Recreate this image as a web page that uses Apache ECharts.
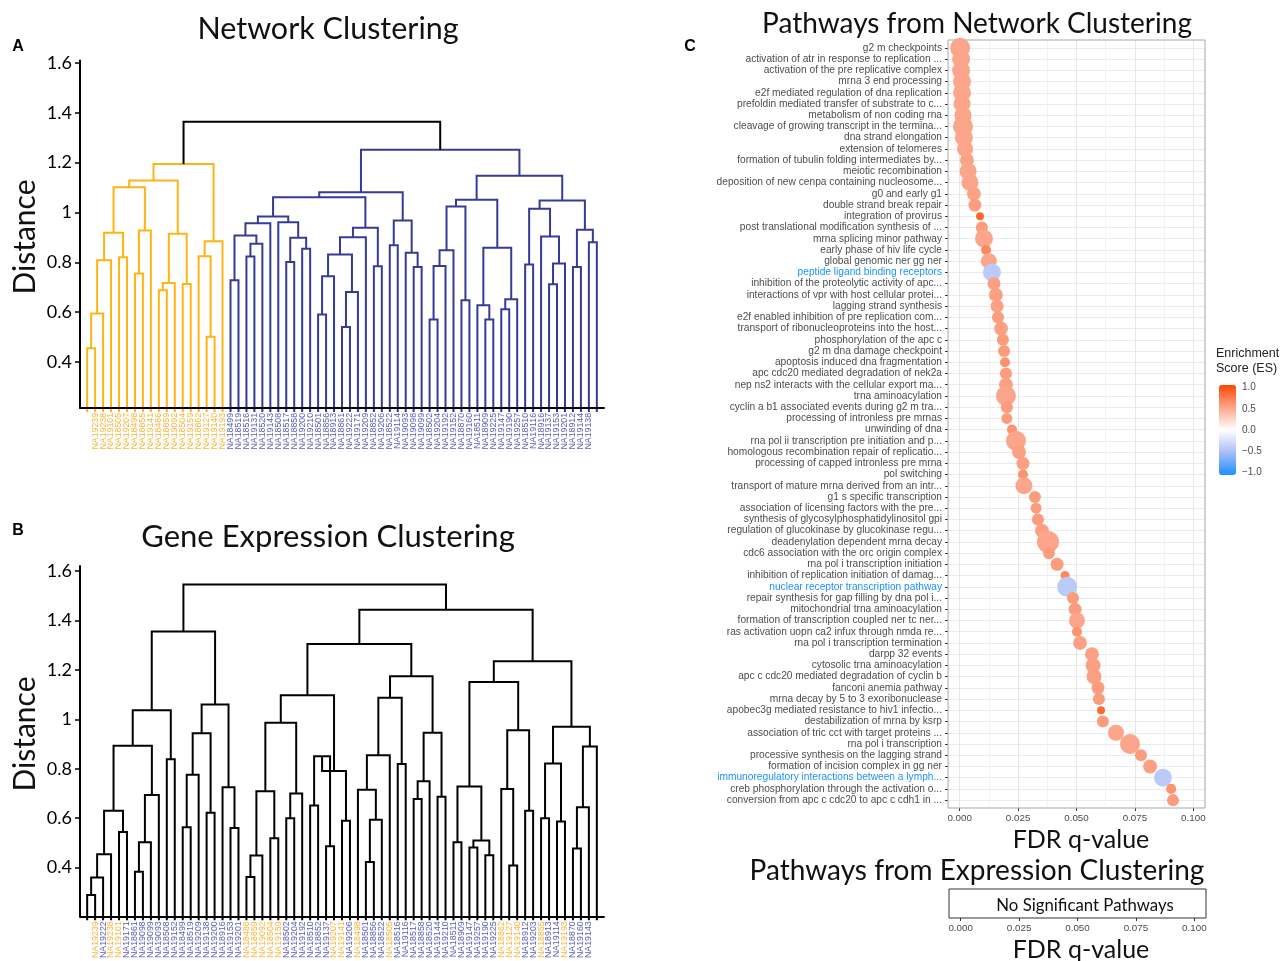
<!DOCTYPE html>
<html><head><meta charset="utf-8">
<script src="https://cdn.jsdelivr.net/npm/echarts@6/dist/echarts.min.js"></script>
<style>html,body{margin:0;padding:0;background:#fff}#c{width:1282px;height:961px}</style>
</head><body><div id="c"></div>
<script>
// ---------- Panel A : network clustering dendrogram ----------
const netLeaves = ['NA19130','NA19239','NA19238','NA19101','NA18505','NA19207','NA18498','NA18855','NA19141','NA18486','NA18859','NA19092','NA18504','NA19159','NA18862','NA19127','NA19140','NA19193',
  'NA18499','NA18519','NA18516','NA19131','NA18520','NA19143','NA18508','NA18517','NA18858','NA19200','NA19210','NA18501','NA18856','NA18913','NA18861','NA19222','NA19171','NA19209','NA18852','NA19206','NA18522','NA19114','NA19093','NA19098','NA19099','NA18502','NA19204','NA19192','NA19152','NA18870','NA19160','NA18511','NA18909','NA19225','NA19147','NA19190','NA19257','NA18510','NA19116','NA18916','NA19137','NA19153','NA19201','NA18912','NA19144','NA19138','NA19203'];
// merges: [childA, childB, height]; child < 65 is a leaf, otherwise merge (id-65)
const netMerges = [
 [0,1,0.455],[65,2,0.595],[66,3,0.808],[4,5,0.821],[67,68,0.919],[6,7,0.755],[70,8,0.928],[69,71,1.101],
 [9,10,0.688],[73,11,0.717],[12,13,0.713],[74,75,0.915],[72,76,1.128],[15,16,0.501],[14,78,0.825],[79,17,0.885],[77,80,1.195],
 [18,19,0.728],[20,21,0.824],[83,22,0.875],[82,84,0.908],[85,23,0.957],[25,26,0.801],[27,28,0.855],[87,88,0.899],[24,89,0.961],[86,90,0.984],
 [29,30,0.591],[92,31,0.744],[32,33,0.541],[94,34,0.681],[93,95,0.832],[96,35,0.901],[36,37,0.784],[97,98,0.939],[91,99,1.061],
 [38,39,0.869],[41,42,0.781],[40,102,0.839],[101,103,0.968],[100,104,1.081],
 [43,44,0.571],[106,45,0.785],[107,46,0.849],[47,48,0.648],[108,109,1.024],[50,51,0.571],[49,111,0.628],[52,53,0.612],[113,54,0.652],[112,114,0.859],[110,115,1.051],
 [55,56,0.791],[58,59,0.712],[118,60,0.795],[57,119,0.904],[117,120,1.015],[61,62,0.781],[63,64,0.881],[122,123,0.931],[121,124,1.048],[116,125,1.148],
 [105,126,1.252],[81,127,1.364]];

// ---------- Panel B : gene expression clustering dendrogram ----------
const exprLeaves = ['NA19130','NA19239','NA19222','NA19238','NA19101','NA19171','NA18861','NA19098','NA19099','NA19093','NA18508','NA19152','NA18499','NA18519','NA19209','NA19138','NA19200','NA18916','NA19153','NA19201',
  'NA18486','NA18859','NA19092','NA18504','NA19159','NA18502','NA19204','NA19192','NA18510','NA18852','NA19137','NA19207','NA19141','NA19206','NA18498','NA18501','NA18856','NA18522','NA18505','NA18516','NA19116','NA18517','NA18858','NA18520','NA19144','NA19210',
  'NA18511','NA18909','NA19147','NA19257','NA19190','NA19225','NA18862','NA19127','NA19140','NA18912','NA19203','NA18855','NA18913','NA19114','NA19193','NA18870','NA19160','NA19143','NA19131'];
const exprMerges = [
 [0,1,0.289],[65,2,0.360],[66,3,0.454],[4,5,0.544],[67,68,0.630],[6,7,0.383],[70,8,0.503],[71,9,0.694],[69,72,0.893],[10,11,0.839],[73,74,1.037],
 [12,13,0.563],[76,14,0.776],[15,16,0.622],[77,78,0.944],[18,19,0.560],[17,80,0.725],[79,81,1.060],[75,82,1.355],
 [20,21,0.362],[84,22,0.449],[23,24,0.519],[85,86,0.709],[25,26,0.600],[88,27,0.700],[87,89,0.986],[28,29,0.651],[30,31,0.487],[91,92,0.851],[32,33,0.590],[93,94,0.791],[90,95,1.097],
 [35,36,0.423],[97,37,0.594],[34,98,0.715],[99,38,0.855],[39,40,0.819],[100,101,1.087],[41,42,0.678],[103,43,0.749],[44,45,0.687],[104,105,0.946],[102,106,1.174],[96,107,1.305],
 [46,47,0.503],[48,49,0.481],[50,51,0.450],[110,111,0.510],[109,112,0.728],[53,54,0.409],[52,114,0.718],[55,56,0.630],[115,116,0.956],[113,117,1.151],
 [57,58,0.600],[59,60,0.587],[119,120,0.821],[61,62,0.477],[122,63,0.644],[123,64,0.890],[121,124,0.970],[118,125,1.235],[108,126,1.443],[83,127,1.546]];

const groupOneIds = ['NA19130','NA19239','NA19238','NA19101','NA18505','NA19207','NA18498','NA18855','NA19141','NA18486','NA18859','NA19092','NA18504','NA19159','NA18862','NA19127','NA19140','NA19193'];
const distanceTicks = [0.4,0.6,0.8,1,1.2,1.4,1.6];

// ---------- Panel C : pathways ----------
const pathways = ['g2 m checkpoints','activation of atr in response to replication ...','activation of the pre replicative complex','mrna 3 end processing','e2f mediated regulation of dna replication','prefoldin mediated transfer of substrate to c...','metabolism of non coding rna','cleavage of growing transcript in the termina...','dna strand elongation','extension of telomeres',
'formation of tubulin folding intermediates by...','meiotic recombination','deposition of new cenpa containing nucleosome...','g0 and early g1','double strand break repair','integration of provirus','post translational modification synthesis of ...','mrna splicing minor pathway','early phase of hiv life cycle','global genomic ner gg ner',
'peptide ligand binding receptors','inhibition of the proteolytic activity of apc...','interactions of vpr with host cellular protei...','lagging strand synthesis','e2f enabled inhibition of pre replication com...','transport of ribonucleoproteins into the host...','phosphorylation of the apc c','g2 m dna damage checkpoint','apoptosis induced dna fragmentation','apc cdc20 mediated degradation of nek2a',
'nep ns2 interacts with the cellular export ma...','trna aminoacylation','cyclin a b1 associated events during g2 m tra...','processing of intronless pre mrnas','unwinding of dna','rna pol ii transcription pre initiation and p...','homologous recombination repair of replicatio...','processing of capped intronless pre mrna','pol switching','transport of mature mrna derived from an intr...',
'g1 s specific transcription','association of licensing factors with the pre...','synthesis of glycosylphosphatidylinositol gpi','regulation of glucokinase by glucokinase regu...','deadenylation dependent mrna decay','cdc6 association with the orc origin complex','rna pol i transcription initiation','inhibition of replication initiation of damag...','nuclear receptor transcription pathway','repair synthesis for gap filling by dna pol i...',
'mitochondrial trna aminoacylation','formation of transcription coupled ner tc ner...','ras activation uopn ca2 infux through nmda re...','rna pol i transcription termination','darpp 32 events','cytosolic trna aminoacylation','apc c cdc20 mediated degradation of cyclin b','fanconi anemia pathway','mrna decay by 5 to 3 exoribonuclease','apobec3g mediated resistance to hiv1 infectio...',
'destabilization of mrna by ksrp','association of tric cct with target proteins ...','rna pol i transcription','processive synthesis on the lagging strand','formation of incision complex in gg ner','immunoregulatory interactions between a lymph...','creb phosphorylation through the activation o...','conversion from apc c cdc20 to apc c cdh1 in ...'];
const fdrQ = [0.0002,0.0006,0.0006,0.0010,0.0010,0.0010,0.0014,0.0014,0.0018,0.0023,
 0.0031,0.0036,0.0044,0.0061,0.0065,0.0087,0.0095,0.0104,0.0113,0.0125,
 0.0138,0.0147,0.0155,0.0160,0.0164,0.0177,0.0185,0.0190,0.0194,0.0198,
 0.0198,0.0198,0.0202,0.0202,0.0224,0.0241,0.0254,0.0271,0.0271,0.0275,
 0.0322,0.0327,0.0335,0.0352,0.0378,0.0382,0.0417,0.0451,0.0460,0.0485,
 0.0494,0.0502,0.0502,0.0515,0.0566,0.0571,0.0575,0.0592,0.0596,0.0605,
 0.0613,0.0669,0.0729,0.0776,0.0815,0.0870,0.0905,0.0913];
const enrichment = [0.5,0.5,0.5,0.5,0.5,0.5,0.5,0.5,0.5,0.5,
 0.52,0.5,0.5,0.52,0.54,0.82,0.55,0.5,0.65,0.5,
 -0.4,0.53,0.53,0.53,0.55,0.53,0.55,0.55,0.6,0.55,
 0.53,0.5,0.55,0.55,0.6,0.5,0.53,0.53,0.6,0.5,
 0.55,0.55,0.55,0.53,0.5,0.55,0.55,0.65,-0.4,0.55,
 0.55,0.5,0.6,0.53,0.53,0.53,0.53,0.55,0.55,0.82,
 0.55,0.5,0.5,0.55,0.53,-0.4,0.6,0.55];
const geneCount = [83,67,67,67,67,60,60,83,67,53,
 40,60,60,40,35,13,30,67,21,53,
 67,35,40,35,30,40,30,30,21,30,
 40,83,30,25,21,83,40,35,21,60,
 30,25,30,40,100,30,35,17,83,30,
 35,53,21,40,40,46,46,35,30,13,
 30,53,83,30,40,67,21,30];
const fdrTicks = [0,0.025,0.05,0.075,0.1];
const fdrMinorTicks = [0.0125,0.0375,0.0625,0.0875];

// ---------- helpers ----------
const yellowSet = new Set(groupOneIds);
const lineColors = ['#FDB515','#363B96','#000000'];
const labelColors = ['#F7B53A','#5A5EB4'];
function buildSegments(leaves, merges, colored) {
  const n = leaves.length, pos = [], hgt = [], grp = [];
  leaves.forEach((id, i) => { pos[i] = i; hgt[i] = null; grp[i] = yellowSet.has(id) ? 0 : 1; });
  const out = [];
  merges.forEach((m, k) => {
    const [a, b, h] = m, id = n + k;
    pos[id] = (pos[a] + pos[b]) / 2; hgt[id] = h;
    grp[id] = grp[a] === grp[b] ? grp[a] : 2;
    out.push([pos[a], a < n ? -1 : hgt[a], pos[b], b < n ? -1 : hgt[b], h, a < n ? 1 : 0, b < n ? 1 : 0, colored ? grp[id] : 2]);
  });
  return out;
}
function makeRender(baseline) {
  return function (params, api) {
    const ha = api.value(5) ? baseline : api.value(1);
    const hb = api.value(6) ? baseline : api.value(3);
    const a = api.coord([api.value(0), ha]);
    const b = api.coord([api.value(0), api.value(4)]);
    const c = api.coord([api.value(2), api.value(4)]);
    const d = api.coord([api.value(2), hb]);
    if (api.value(5)) a[1] += 4;
    if (api.value(6)) d[1] += 4;
    return { type: 'polyline', shape: { points: [a, b, c, d] },
      style: { stroke: lineColors[api.value(7)], lineWidth: 2, fill: null } };
  };
}
const leafIdx = netLeaves.map((_, i) => i);
const rowIdx = pathways.map((_, i) => i + 1);
const netMin = 0.216, exprMin = 0.203;

function dendroX(grid, leaves) {
  return { gridIndex: grid, type: 'value', min: -0.9, max: 64.9, z: 3,
    axisLine: { show: true, onZero: false, lineStyle: { color: '#000', width: 2 } },
    axisTick: { show: false }, splitLine: { show: false },
    axisLabel: { customValues: leafIdx, rotate: 90, fontSize: 8.8, fontFamily: 'Liberation Sans', margin: 5,
      formatter: v => leaves[Math.round(v)],
      color: v => labelColors[yellowSet.has(leaves[Math.round(Number(v))]) ? 0 : 1] } };
}
function dendroY(grid, min, max) {
  return { gridIndex: grid, type: 'value', min: min, max: max, z: 3,
    axisLine: { show: true, onZero: false, lineStyle: { color: '#000', width: 2 } },
    axisTick: { show: true, customValues: distanceTicks, length: 5, lineStyle: { color: '#000', width: 1.5 } },
    axisLabel: { customValues: distanceTicks, fontFamily: 'Lato', fontSize: 18, color: '#000', margin: 8 },
    splitLine: { show: false } };
}
const fdrFmt = v => Number(v).toFixed(3);
const negSet = new Set(pathways.filter((p, i) => enrichment[i] < 0));

const chart = echarts.init(document.getElementById('c'), null, { renderer: 'canvas' });
chart.setOption({
  animation: false,
  backgroundColor: '#fff',
  grid: [
    { left: 80, top: 60.5, width: 524, height: 347.4 },
    { left: 80, top: 566.1, width: 524, height: 351.8 },
    { left: 948, top: 40, width: 257, height: 768, show: true, borderColor: '#A8A8A8', borderWidth: 1, backgroundColor: 'transparent', z: 1 },
    { left: 948, top: 40, width: 257, height: 768 },
    { left: 1219, top: 387.7, width: 17, height: 84.6 },
    { left: 949, top: 889, width: 257, height: 29, show: true, borderColor: '#333', borderWidth: 1 }
  ],
  xAxis: [
    dendroX(0, netLeaves),
    dendroX(1, exprLeaves),
    { gridIndex: 2, type: 'value', min: -0.005, max: 0.105,
      axisLine: { show: false, onZero: false },
      axisTick: { show: true, customValues: fdrTicks, length: 3, lineStyle: { color: '#333' } },
      axisLabel: { customValues: fdrTicks, formatter: fdrFmt, fontSize: 9.8, fontFamily: 'Liberation Sans', color: '#4D4D4D', margin: 5 },
      splitLine: { show: true, lineStyle: { color: '#E6E6E6', width: 1 } } },
    { gridIndex: 3, type: 'value', min: -0.005, max: 0.105, axisLine: { show: false, onZero: false },
      axisTick: { show: false, customValues: fdrMinorTicks }, axisLabel: { show: false, customValues: fdrMinorTicks },
      splitLine: { show: true, lineStyle: { color: '#F3F3F3', width: 1 } } },
    { gridIndex: 4, type: 'value', show: false, min: 0, max: 1 },
    { gridIndex: 5, type: 'value', min: -0.005, max: 0.105, axisLine: { show: false, onZero: false },
      axisTick: { show: true, customValues: fdrTicks, length: 3, lineStyle: { color: '#333' } },
      axisLabel: { customValues: fdrTicks, formatter: fdrFmt, fontSize: 9.8, fontFamily: 'Liberation Sans', color: '#4D4D4D', margin: 5 },
      splitLine: { show: false } }
  ],
  yAxis: [
    dendroY(0, netMin, 1.61),
    dendroY(1, exprMin, 1.62),
    { gridIndex: 2, type: 'value', inverse: true, min: 0.3, max: 68.7,
      axisLine: { show: false, onZero: false },
      axisTick: { show: true, customValues: rowIdx, length: 3, lineStyle: { color: '#333' } },
      axisLabel: { customValues: rowIdx, fontSize: 10.2, fontFamily: 'Liberation Sans', margin: 6,
        formatter: v => pathways[Math.round(v) - 1],
        color: v => negSet.has(pathways[Math.round(Number(v)) - 1]) ? '#1E90FF' : '#4D4D4D' },
      splitLine: { show: true, lineStyle: { color: '#EBEBEB', width: 1 } } },
    { gridIndex: 3, type: 'value', show: false, min: 0, max: 1 },
    { gridIndex: 4, type: 'value', position: 'right', min: -1, max: 1, interval: 0.5,
      axisLine: { show: false, onZero: false }, axisTick: { show: false }, splitLine: { show: false },
      axisLabel: { fontSize: 10, fontFamily: 'Liberation Sans', color: '#4D4D4D', margin: 6,
        formatter: v => (v < 0 ? '\u2212' : '') + Math.abs(v).toFixed(1) } },
    { gridIndex: 5, type: 'value', show: false, min: 0, max: 1 }
  ],
  visualMap: [{
    type: 'continuous', seriesIndex: 2, dimension: 2, min: -1, max: 1,
    inRange: { color: ['#1E90FF', '#A9BDF8', '#FFFFFF', '#FBA68B', '#FF4500'] },
    left: 1219, top: 385, itemWidth: 17, itemHeight: 90, padding: 0, calculable: false, text: null, z: 5
  }],
  series: [
    { type: 'custom', xAxisIndex: 0, yAxisIndex: 0, renderItem: makeRender(netMin), clip: false,
      encode: { x: [0, 2], y: [4] }, data: buildSegments(netLeaves, netMerges, true), silent: true },
    { type: 'custom', xAxisIndex: 1, yAxisIndex: 1, renderItem: makeRender(exprMin), clip: false,
      encode: { x: [0, 2], y: [4] }, data: buildSegments(exprLeaves, exprMerges, false), silent: true },
    { type: 'scatter', xAxisIndex: 2, yAxisIndex: 2, clip: false,
      data: pathways.map((p, i) => [fdrQ[i], i + 1, enrichment[i], geneCount[i]]),
      symbolSize: v => 2.2 * Math.sqrt(v[3]), itemStyle: { opacity: 1 } }
  ],
  graphic: [
    { type: 'text', x: 328, y: 29, style: { text: 'Network Clustering', font: '30.5px Lato', fill: '#111', align: 'center', verticalAlign: 'middle' } },
    { type: 'text', x: 328, y: 537, style: { text: 'Gene Expression Clustering', font: '31px Lato', fill: '#111', align: 'center', verticalAlign: 'middle' } },
    { type: 'text', x: 25, y: 237, rotation: Math.PI / 2, style: { text: 'Distance', font: '30px Lato', fill: '#111', align: 'center', verticalAlign: 'middle' } },
    { type: 'text', x: 25, y: 734, rotation: Math.PI / 2, style: { text: 'Distance', font: '30px Lato', fill: '#111', align: 'center', verticalAlign: 'middle' } },
    { type: 'text', x: 18, y: 47, style: { text: 'A', font: 'bold 16px Liberation Sans', fill: '#000', align: 'center', verticalAlign: 'middle' } },
    { type: 'text', x: 18, y: 531, style: { text: 'B', font: 'bold 16px Liberation Sans', fill: '#000', align: 'center', verticalAlign: 'middle' } },
    { type: 'text', x: 690, y: 47, style: { text: 'C', font: 'bold 16px Liberation Sans', fill: '#000', align: 'center', verticalAlign: 'middle' } },
    { type: 'text', x: 977, y: 24, style: { text: 'Pathways from Network Clustering', font: '28px Lato', fill: '#111', align: 'center', verticalAlign: 'middle' } },
    { type: 'text', x: 1081, y: 840, style: { text: 'FDR q-value', font: '25px Lato', fill: '#111', align: 'center', verticalAlign: 'middle' } },
    { type: 'text', x: 977, y: 871, style: { text: 'Pathways from Expression Clustering', font: '28px Lato', fill: '#111', align: 'center', verticalAlign: 'middle' } },
    { type: 'text', x: 1085, y: 906, style: { text: 'No Significant Pathways', font: '16.8px Lato', fill: '#111', align: 'center', verticalAlign: 'middle' } },
    { type: 'text', x: 1081, y: 950, style: { text: 'FDR q-value', font: '25px Lato', fill: '#111', align: 'center', verticalAlign: 'middle' } },
    { type: 'text', x: 1216, y: 346, style: { text: 'Enrichment\nScore (ES)', font: '12.5px Liberation Sans', fill: '#222', align: 'left', verticalAlign: 'top', lineHeight: 15 } }
  ]
});
</script></body></html>
